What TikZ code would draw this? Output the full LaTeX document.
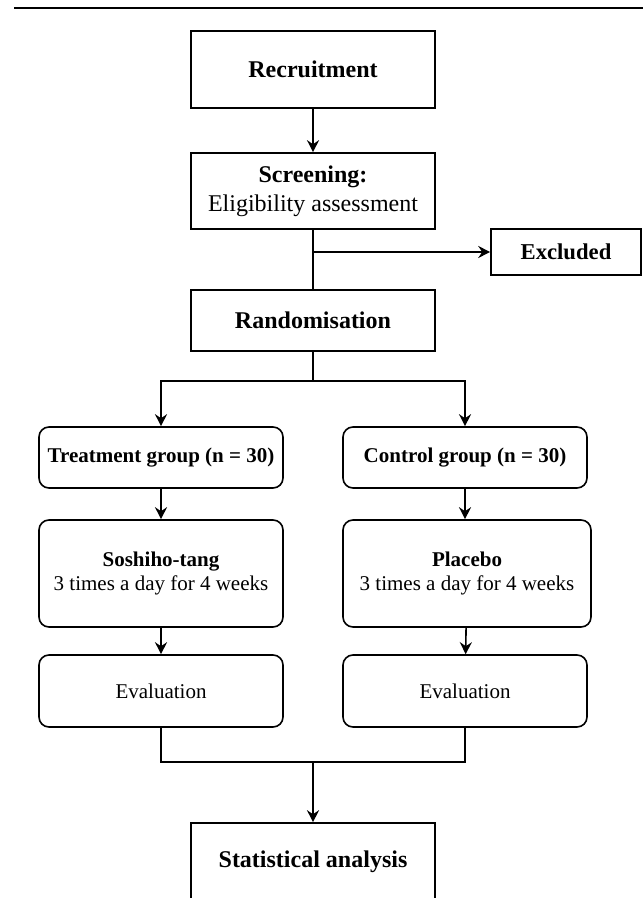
\documentclass[tikz,border=0pt]{standalone}
\usepackage{fontspec}
\setmainfont{Liberation Serif}
\usetikzlibrary{arrows.meta,calc}

\begin{document}
\begin{tikzpicture}[x=0.75pt,y=-0.75pt,
  box/.style={draw,line width=1.2pt,inner sep=0pt,align=center,minimum width=183pt,font=\fontsize{18}{21.75}\selectfont},
  rbox/.style={box,rounded corners=7.5pt,font=\fontsize{15.75}{18}\selectfont},
  arr/.style={line width=1.2pt,-{Stealth[length=9pt,width=9pt,inset=3pt]}},
  lin/.style={line width=1.2pt}]
\clip (0,0) rectangle (643,898);
\useasboundingbox (0,0) rectangle (643,898);

\draw[line width=1.5pt] (14,8) -- (643,8);

\node[box,minimum height=57.75pt] (rec) at (313,69.5) {\textbf{Recruitment}};
\node[box,minimum height=57pt] (scr) at (313,191) {\textbf{Screening:}\\Eligibility assessment};
\node[box,minimum width=112.5pt,minimum height=34.5pt,font=\fontsize{17}{20}\selectfont] (exc) at (566,252) {\textbf{Excluded}};
\node[box,minimum height=45.75pt] (ran) at (313,320.5) {\textbf{Randomisation}};

\node[rbox,minimum height=45.75pt] (trt) at (161,457.5) {\textbf{Treatment group (n = 30)}};
\node[rbox,minimum height=45.75pt] (ctl) at (465,457.5) {\textbf{Control group (n = 30)}};
\node[rbox,minimum height=80.25pt] (sos) at (161,573.5) {\textbf{Soshiho-tang}\\3 times a day for 4 weeks};
\node[rbox,minimum width=186pt,minimum height=80.25pt] (pla) at (467,573.5) {\textbf{Placebo}\\3 times a day for 4 weeks};
\node[rbox,minimum height=54pt] (evl) at (161,691) {Evaluation};
\node[rbox,minimum height=54pt] (evr) at (465,691) {Evaluation};

\node[box,minimum height=57.75pt] (sta) at (313,861.5) {\textbf{Statistical analysis}};

\coordinate (split) at (313,381);
\coordinate (merge) at (313,762);

\draw[arr] (rec) -- (scr);
\draw[lin] (scr) -- (ran);
\draw[arr] (scr.south |- exc.west) -- (exc.west);
\draw[lin] (ran) -- (split);
\draw[arr] (split) -| (trt.north);
\draw[arr] (split) -| (ctl.north);
\draw[arr] (trt) -- (sos);
\draw[arr] (ctl) -- (ctl.south |- pla.north);
\draw[arr] (sos) -- (evl);
\draw[arr] (pla) -- (evr);
\draw[lin] (evl) |- (merge) -| (evr);
\draw[arr] (merge) -- (sta);

\end{tikzpicture}
\end{document}
